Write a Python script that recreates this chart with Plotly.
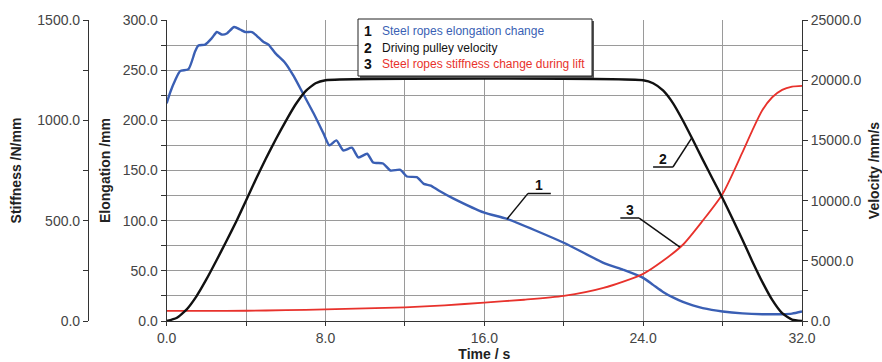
import numpy as np
import plotly.graph_objects as go

# ---------------- data ----------------
time_elong = [0, 0.2, 0.43, 0.68, 1.1, 1.44, 1.6, 1.94, 2.28, 2.53, 2.78, 3.03, 3.4, 3.7,
              3.96, 4.3, 4.55, 4.88, 5.13, 5.47, 5.98, 6.4, 6.9, 7.4, 7.9, 8.2, 8.55, 8.9,
              9.33, 9.66, 10.1, 10.4, 10.9, 11.27, 11.77, 12.1, 12.6, 12.95, 13.3, 13.7,
              14.45, 16, 17.15, 20, 22, 23, 24, 24.5, 25, 25.5, 26, 26.5, 27, 28, 29, 30, 31,
              31.5, 32]
elongation_mm = [217, 229, 240, 249, 251, 269, 274.5, 275.5, 282, 288, 285.5, 286.5, 293, 290.5,
                 288, 288, 284, 278, 275.5, 267, 257, 244, 225.5, 207, 187, 175, 180, 170,
                 172.7, 163, 166.7, 158, 157, 150, 150.7, 144, 143.3, 136.7, 135, 130,
                 122, 108, 101.7, 78, 58, 51, 43, 36, 29, 23.5, 19, 15.5, 12.8, 9.5, 7.6, 6.8,
                 6.8, 7.4, 9.5]

time_vel = [0, 0.5, 1, 1.5, 2, 2.5, 3, 3.5, 4, 4.5, 5, 5.5, 6, 6.5, 7, 7.5, 8,
            24, 24.5, 25, 25.5, 26, 26.5, 27, 27.5, 28, 28.5, 29, 29.5, 30, 30.5, 31, 31.5, 32]
velocity_mms = [0, 250, 950, 2050, 3450, 5000, 6600, 8250, 10000, 11800, 13500, 15100, 16600,
                18000, 19100, 19750, 20000,
                20000, 19750, 19150, 18100, 16650, 15050, 13400, 11800, 10200, 8500, 6750,
                4950, 3250, 1750, 650, 120, 0]

time_stiff = [0, 2, 4, 6, 8, 10, 12, 14, 16, 18, 20, 22, 24, 25, 26, 27, 28, 29, 29.5, 30,
              30.5, 31, 31.5, 32]
stiffness_nmm = [50, 50, 51, 54, 58, 63, 68, 78, 92, 106, 125, 165, 235, 300, 380, 500, 633,
                 840, 950, 1050, 1115, 1152, 1168, 1172]

legend_numbers = ["1", "2", "3"]
legend_texts = ["Steel ropes elongation change", "Driving pulley velocity",
                "Steel ropes stiffness change during lift"]
label_times = [17.15, 26.45, 25.85]   # where the numbered leaders touch curves 1, 2, 3

BLUE = "#3a5fb4"
RED = "#e8322c"
BLACK = "#111111"
GRID = "#9a9a9a"
AX = "#333333"
FONT = "Liberation Sans, Arial, sans-serif"

fig = go.Figure()
fig.add_trace(go.Scatter(x=time_stiff, y=stiffness_nmm, yaxis="y2", mode="lines",
                         line=dict(color=RED, width=1.8, shape="spline", smoothing=0.7)))
fig.add_trace(go.Scatter(x=time_vel, y=velocity_mms, yaxis="y3", mode="lines",
                         line=dict(color=BLACK, width=2.4, shape="spline", smoothing=0.5)))
fig.add_trace(go.Scatter(x=time_elong, y=elongation_mm, yaxis="y", mode="lines",
                         line=dict(color=BLUE, width=2.4, shape="spline", smoothing=0.6)))

tickfont = dict(family=FONT, size=14, color="#444")
titlefont = dict(family=FONT, size=14, color="#222")

fig.update_layout(
    width=882, height=362,
    margin=dict(l=80, r=80, t=20, b=41),
    paper_bgcolor="white", plot_bgcolor="white",
    showlegend=False,
    font=dict(family=FONT, size=13, color="#333"),
    xaxis=dict(domain=[0.12, 1], range=[0, 32], tick0=0, dtick=8, tickformat=".1f",
               ticks="outside", ticklen=4, tickcolor=AX, showline=True, linecolor=AX,
               showgrid=True, gridcolor=GRID, gridwidth=1, zeroline=False, tickfont=tickfont,
               automargin=False,
               minor=dict(dtick=4, ticks="outside", ticklen=4, tickcolor=AX,
                          showgrid=True, gridcolor=GRID, gridwidth=1),
               title=dict(text="<b>Time / s</b>", font=titlefont, standoff=4)),
    yaxis=dict(range=[0, 300], tick0=0, dtick=50, tickformat=".1f", ticks="outside",
               ticklen=5, tickcolor=AX, showline=True, linecolor=AX, zeroline=False,
               showgrid=True, gridcolor=GRID, gridwidth=1, tickfont=tickfont, automargin=False,
               minor=dict(dtick=25, ticks="outside", ticklen=5, tickcolor=AX,
                          showgrid=True, gridcolor=GRID, gridwidth=1),
               title=dict(text="<b>Elongation /mm</b>", font=titlefont, standoff=8)),
    yaxis2=dict(overlaying="y", anchor="free", position=0.011, side="left",
                range=[0, 1500], tick0=0, dtick=500, tickformat=".1f", ticks="outside",
                ticklen=5, tickcolor=AX, showline=True, linecolor=AX, showgrid=False,
                zeroline=False, tickfont=tickfont, automargin=False,
                minor=dict(dtick=250, ticks="outside", ticklen=5, tickcolor=AX, showgrid=False),
                title=dict(text="<b>Stiffness /N/mm</b>", font=titlefont, standoff=11)),
    yaxis3=dict(overlaying="y", anchor="x", side="right",
                range=[0, 25000], tick0=0, dtick=5000, tickformat=".1f", ticks="outside",
                ticklen=5, tickcolor=AX, showline=True, linecolor=AX, showgrid=False,
                zeroline=False, tickfont=tickfont, automargin=False,
                minor=dict(dtick=2500, ticks="outside", ticklen=5, tickcolor=AX, showgrid=False),
                title=dict(text="<b>Velocity /mm/s</b>", font=titlefont, standoff=11)),
)

# ---------- numbered leader labels (anchored to the curves) ----------
def to_elong_units(i, t):
    if i == 0:
        return float(np.interp(t, time_elong, elongation_mm))
    if i == 1:
        return float(np.interp(t, time_vel, velocity_mms)) * 300 / 25000
    return float(np.interp(t, time_stiff, stiffness_nmm)) * 300 / 1500

# (dx, dy) from curve point to the underline corner, and underline direction
leader_offsets = [(1.05, 25.5, 1.15), (-0.95, -29, -1.0), (-2.05, 29, -0.95)]
for i, t in enumerate(label_times):
    yc = to_elong_units(i, t)
    dx, dy, ul = leader_offsets[i]
    xk, yk = t + dx, yc + dy
    fig.add_shape(type="line", xref="x", yref="y", x0=t, y0=yc, x1=xk, y1=yk,
                  line=dict(color=BLACK, width=1.5))
    fig.add_shape(type="line", xref="x", yref="y", x0=xk, y0=yk, x1=xk + ul, y1=yk,
                  line=dict(color=BLACK, width=1.5))
    fig.add_annotation(x=xk + ul / 2, y=yk, xref="x", yref="y", text="<b>%s</b>" % legend_numbers[i],
                       showarrow=False, yanchor="bottom", yshift=-2,
                       font=dict(family=FONT, size=14, color=BLACK))

# ---------- legend box ----------
def px(xp):
    return (xp - 80) / 722.0

def py(yp):
    return (321 - yp) / 301.0

fig.add_shape(type="rect", xref="paper", yref="paper", x0=px(360), x1=px(594), y0=py(78), y1=py(21),
              fillcolor="#555", line=dict(width=0), layer="above")
fig.add_shape(type="rect", xref="paper", yref="paper", x0=px(358), x1=px(592), y0=py(76), y1=py(19),
              fillcolor="white", line=dict(color="#222", width=1), layer="above")
legend_colors = [BLUE, BLACK, RED]
legend_rows = [31.5, 47.5, 63.5]
for num, txt, col, yr in zip(legend_numbers, legend_texts, legend_colors, legend_rows):
    fig.add_annotation(x=px(362), y=py(yr), xref="paper", yref="paper", text="<b>%s</b>" % num,
                       showarrow=False, xanchor="left", yanchor="middle",
                       font=dict(family=FONT, size=14, color=BLACK))
    fig.add_annotation(x=px(380), y=py(yr), xref="paper", yref="paper", text=txt,
                       showarrow=False, xanchor="left", yanchor="middle",
                       font=dict(family=FONT, size=12, color=col))

fig.write_html("out.html")
